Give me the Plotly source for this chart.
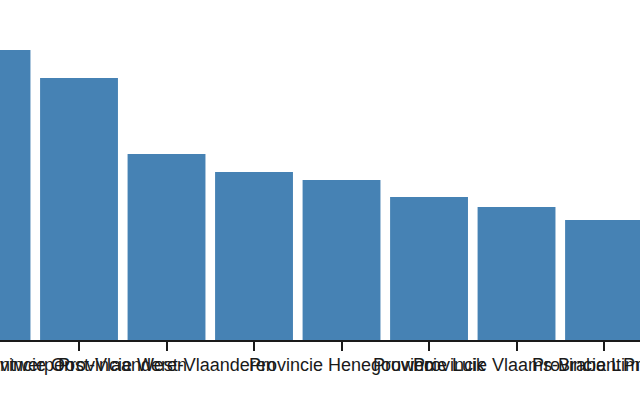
import plotly.graph_objects as go

provinces = [
    "Provincie Antwerpen",
    "Provincie Oost-Vlaanderen",
    "Provincie West-Vlaanderen",
    "",
    "Provincie Henegouwen",
    "Provincie Luik",
    "Provincie Vlaams-Brabant",
    "Provincie Limburg",
    "Provincie Namen",
]
values = [290, 262, 186, 168, 160, 143, 133, 120, 105]

x_idx = list(range(len(provinces)))
x_range = [0.097, 7.411]
font = dict(family="Liberation Sans, Arial, sans-serif", size=18, color="#1a1a1a")

fig = go.Figure(go.Bar(
    x=x_idx, y=values, marker=dict(color="#4682b4", line=dict(width=0)),
    hoverinfo="skip",
))

fig.update_xaxes(
    range=x_range, tickmode="array", tickvals=x_idx, showticklabels=False,
    ticks="outside", ticklen=9, tickwidth=1.5, tickcolor="#1a1a1a",
    showline=True, linecolor="#1a1a1a", linewidth=1.5,
    showgrid=False, zeroline=False, fixedrange=True,
)
fig.update_yaxes(range=[0, 340], visible=False, fixedrange=True)

# category labels (drawn as text so the overflowing ones at the edges show too)
for i in x_idx:
    fig.add_annotation(
        x=(i - x_range[0]) / (x_range[1] - x_range[0]), xref="paper",
        xanchor="center",
        y=0, yref="paper", yanchor="top", yshift=-13,
        text=provinces[i], showarrow=False, font=font,
    )

fig.update_layout(
    width=640, height=400, bargap=0.11,
    margin=dict(l=0, r=0, t=0, b=60),
    plot_bgcolor="white", paper_bgcolor="white", showlegend=False,
)
fig.write_html(
    "out.html",
    config={"displayModeBar": False},
    post_script="document.body.style.margin='0';",
)
